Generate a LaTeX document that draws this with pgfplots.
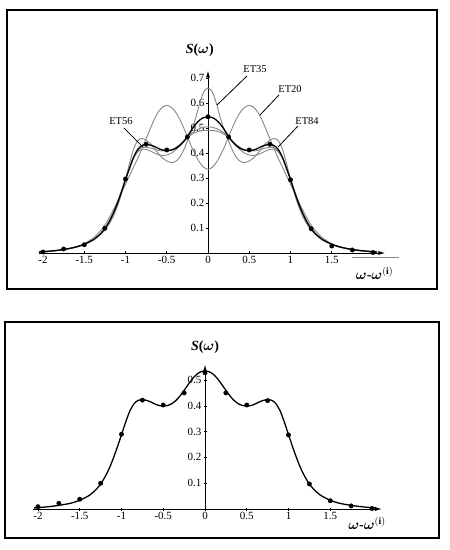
\documentclass[border=0pt]{standalone}
\usepackage{fontspec}
\setmainfont{Liberation Serif}
\usepackage{pgfplots}
\pgfplotsset{compat=1.18}
\usetikzlibrary{arrows.meta}
\usepackage{bm}
\definecolor{cgray}{RGB}{135,135,135}
\pgfplotsset{
  myaxis/.style={
    axis lines=middle,
    enlargelimits=false,
    clip=false,
    hide obscured x ticks=false,
    hide obscured y ticks=false,
    axis line style={line width=0.9pt,-{Latex[length=7pt,width=4pt]}},
    tick style={black,line width=0.6pt},
    major tick length=3pt,
    tick label style={font=\fontsize{11}{12}\selectfont},
    xtick={-2,-1.5,-1,-0.5,0,0.5,1,1.5},
    xticklabels={-2,-1.5,-1,-0.5,0,0.5,1,1.5},
    xticklabel style={yshift=1.5pt},
    yticklabel style={xshift=1.5pt},
  },
  gcurve/.style={cgray,line width=0.9pt,smooth,no marks},
  bcurve/.style={black,line width=1.3pt,smooth,no marks},
  bdots/.style={only marks,mark=*,mark size=2.2pt,black},
}
\begin{document}
\begin{tikzpicture}[x=1pt,y=1pt]
\path[use as bounding box] (0,0) rectangle (450,550);
\draw[line width=1.3pt] (7,261) rectangle (437,540);
\draw[line width=1.3pt] (5,12) rectangle (439,228);

% ---------------- top panel ----------------
\begin{axis}[myaxis,
  at={(38.875pt,297pt)}, anchor=south west,
  x=82.5pt, y=250pt,
  xmin=-2.05, xmax=2.15, ymin=0, ymax=0.73,
  ytick={0.1,0.2,0.3,0.4,0.5,0.6,0.7},
  yticklabels={0.1,0.2,0.3,0.4,0.5,0.6,0.7},
]
% ET20
\addplot[gcurve] coordinates {
(-2.05,0.003)(-1.9,0.007)(-1.75,0.013)(-1.6,0.024)(-1.5,0.037)(-1.4,0.058)(-1.35,0.072)(-1.3,0.09)(-1.25,0.112)(-1.2,0.14)(-1.15,0.17)(-1.1,0.205)(-1.05,0.24)(-1,0.275)(-0.95,0.31)(-0.9,0.345)(-0.85,0.38)(-0.8,0.418)(-0.75,0.457)(-0.7,0.497)(-0.65,0.535)(-0.6,0.565)(-0.55,0.584)(-0.5,0.59)(-0.45,0.584)(-0.4,0.567)(-0.35,0.54)(-0.3,0.505)(-0.25,0.465)(-0.2,0.425)(-0.15,0.39)(-0.1,0.362)(-0.05,0.342)
(0,0.335)(0.05,0.342)(0.1,0.362)(0.15,0.39)(0.2,0.425)(0.25,0.465)(0.3,0.505)(0.35,0.54)(0.4,0.567)(0.45,0.584)(0.5,0.59)(0.55,0.584)(0.6,0.565)(0.65,0.535)(0.7,0.497)(0.75,0.457)(0.8,0.418)(0.85,0.38)(0.9,0.345)(0.95,0.31)(1,0.275)(1.05,0.24)(1.1,0.205)(1.15,0.17)(1.2,0.14)(1.25,0.112)(1.3,0.09)(1.35,0.072)(1.4,0.058)(1.5,0.037)(1.6,0.024)(1.75,0.013)(1.9,0.007)(2.05,0.003)
};
% ET35
\addplot[gcurve] coordinates {
(-2.05,0.003)(-1.9,0.007)(-1.75,0.013)(-1.6,0.023)(-1.5,0.034)(-1.4,0.05)(-1.35,0.061)(-1.3,0.075)(-1.25,0.092)(-1.2,0.115)(-1.15,0.145)(-1.1,0.185)(-1.05,0.235)(-1,0.295)(-0.95,0.36)(-0.9,0.418)(-0.85,0.45)(-0.8,0.458)(-0.75,0.452)(-0.7,0.438)(-0.65,0.418)(-0.6,0.397)(-0.55,0.38)(-0.5,0.368)(-0.45,0.362)(-0.4,0.365)(-0.35,0.38)(-0.3,0.408)(-0.25,0.448)(-0.2,0.49)(-0.15,0.54)(-0.1,0.60)(-0.05,0.645)
(0,0.66)(0.05,0.645)(0.1,0.60)(0.15,0.54)(0.2,0.49)(0.25,0.448)(0.3,0.408)(0.35,0.38)(0.4,0.365)(0.45,0.362)(0.5,0.368)(0.55,0.38)(0.6,0.397)(0.65,0.418)(0.7,0.438)(0.75,0.452)(0.8,0.458)(0.85,0.45)(0.9,0.418)(0.95,0.36)(1,0.295)(1.05,0.235)(1.1,0.185)(1.15,0.145)(1.2,0.115)(1.25,0.092)(1.3,0.075)(1.35,0.061)(1.4,0.05)(1.5,0.034)(1.6,0.023)(1.75,0.013)(1.9,0.007)(2.05,0.003)
};
% ET56
\addplot[gcurve] coordinates {
(-2.05,0.004)(-1.9,0.008)(-1.75,0.014)(-1.6,0.024)(-1.5,0.035)(-1.4,0.051)(-1.35,0.063)(-1.3,0.078)(-1.25,0.098)(-1.2,0.124)(-1.15,0.158)(-1.1,0.2)(-1.05,0.248)(-1,0.295)(-0.95,0.34)(-0.9,0.38)(-0.85,0.405)(-0.8,0.415)(-0.75,0.414)(-0.7,0.408)(-0.65,0.40)(-0.6,0.393)(-0.55,0.39)(-0.5,0.392)(-0.45,0.398)(-0.4,0.41)(-0.35,0.425)(-0.3,0.443)(-0.25,0.46)(-0.2,0.474)(-0.15,0.483)(-0.1,0.488)(-0.05,0.49)
(0,0.49)(0.05,0.49)(0.1,0.488)(0.15,0.483)(0.2,0.474)(0.25,0.46)(0.3,0.443)(0.35,0.425)(0.4,0.41)(0.45,0.398)(0.5,0.392)(0.55,0.39)(0.6,0.393)(0.65,0.40)(0.7,0.408)(0.75,0.414)(0.8,0.415)(0.85,0.405)(0.9,0.38)(0.95,0.34)(1,0.295)(1.05,0.248)(1.1,0.2)(1.15,0.158)(1.2,0.124)(1.25,0.098)(1.3,0.078)(1.35,0.063)(1.4,0.051)(1.5,0.035)(1.6,0.024)(1.75,0.014)(1.9,0.008)(2.05,0.004)
};
% ET84
\addplot[gcurve] coordinates {
(-2.05,0.004)(-1.9,0.008)(-1.75,0.014)(-1.6,0.024)(-1.5,0.035)(-1.4,0.051)(-1.35,0.063)(-1.3,0.078)(-1.25,0.098)(-1.2,0.124)(-1.15,0.157)(-1.1,0.198)(-1.05,0.245)(-1,0.296)(-0.95,0.342)(-0.9,0.383)(-0.85,0.41)(-0.8,0.422)(-0.75,0.423)(-0.7,0.42)(-0.65,0.415)(-0.6,0.41)(-0.55,0.408)(-0.5,0.408)(-0.45,0.412)(-0.4,0.42)(-0.35,0.432)(-0.3,0.447)(-0.25,0.463)(-0.2,0.478)(-0.15,0.49)(-0.1,0.498)(-0.05,0.503)
(0,0.505)(0.05,0.503)(0.1,0.498)(0.15,0.49)(0.2,0.478)(0.25,0.463)(0.3,0.447)(0.35,0.432)(0.4,0.42)(0.45,0.412)(0.5,0.408)(0.55,0.408)(0.6,0.41)(0.65,0.415)(0.7,0.42)(0.75,0.423)(0.8,0.422)(0.85,0.41)(0.9,0.383)(0.95,0.342)(1,0.296)(1.05,0.245)(1.1,0.198)(1.15,0.157)(1.2,0.124)(1.25,0.098)(1.3,0.078)(1.35,0.063)(1.4,0.051)(1.5,0.035)(1.6,0.024)(1.75,0.014)(1.9,0.008)(2.05,0.004)
};
% exact (black)
\addplot[bcurve] coordinates {
(-2.05,0.004)(-1.9,0.008)(-1.75,0.014)(-1.6,0.024)(-1.5,0.035)(-1.4,0.051)(-1.35,0.063)(-1.3,0.078)(-1.25,0.098)(-1.2,0.124)(-1.15,0.157)(-1.1,0.197)(-1.05,0.243)(-1,0.293)(-0.95,0.34)(-0.9,0.385)(-0.85,0.415)(-0.8,0.43)(-0.75,0.434)(-0.7,0.432)(-0.65,0.426)(-0.6,0.418)(-0.55,0.412)(-0.5,0.41)(-0.45,0.411)(-0.4,0.417)(-0.35,0.428)(-0.3,0.444)(-0.25,0.466)(-0.2,0.492)(-0.15,0.515)(-0.1,0.532)(-0.05,0.542)
(0,0.545)(0.05,0.542)(0.1,0.532)(0.15,0.515)(0.2,0.492)(0.25,0.466)(0.3,0.444)(0.35,0.428)(0.4,0.417)(0.45,0.411)(0.5,0.41)(0.55,0.412)(0.6,0.418)(0.65,0.426)(0.7,0.432)(0.75,0.434)(0.8,0.43)(0.85,0.415)(0.9,0.385)(0.95,0.34)(1,0.293)(1.05,0.243)(1.1,0.197)(1.15,0.157)(1.2,0.124)(1.25,0.098)(1.3,0.078)(1.35,0.063)(1.4,0.051)(1.5,0.035)(1.6,0.024)(1.75,0.014)(1.9,0.008)(2.05,0.004)
};
\addplot[bdots] coordinates {
(-2,0.004)(-1.75,0.016)(-1.5,0.033)(-1.25,0.099)(-1,0.296)(-0.75,0.435)(-0.5,0.412)(-0.25,0.464)(0,0.545)(0.25,0.464)(0.5,0.412)(0.75,0.435)(1,0.293)(1.25,0.097)(1.5,0.028)(1.75,0.012)(2,0.002)
};
% labels
\node[font=\fontsize{14}{15}\selectfont] at (axis cs:-0.1,0.812) {\textbf{\textit{S}(}$\bm{\omega}$\textbf{)}};
\node[font=\fontsize{14}{15}\selectfont] at (axis cs:2.02,-0.08) {$\bm{\omega}$\textbf{-}$\bm{\omega}^{\mathbf{(i)}}$};
\draw[line width=0.5pt,cgray] (axis cs:1.75,-0.017) -- (axis cs:2.31,-0.017);
\node[font=\fontsize{10.5}{12}\selectfont] at (axis cs:0.57,0.736) {ET35};
\draw[line width=0.8pt] (axis cs:0.473,0.708) -- (axis cs:0.109,0.592);
\node[font=\fontsize{10.5}{12}\selectfont] at (axis cs:0.994,0.656) {ET20};
\draw[line width=0.8pt] (axis cs:0.86,0.632) -- (axis cs:0.63,0.552);
\node[font=\fontsize{10.5}{12}\selectfont] at (axis cs:1.2,0.528) {ET84};
\draw[line width=0.8pt] (axis cs:1.09,0.508) -- (axis cs:0.85,0.424);
\node[font=\fontsize{10.5}{12}\selectfont] at (axis cs:-1.055,0.528) {ET56};
\draw[line width=0.8pt] (axis cs:-1.02,0.5) -- (axis cs:-0.79,0.424);
\end{axis}

% ---------------- bottom panel ----------------
\begin{axis}[myaxis,
  at={(33.0pt,41pt)}, anchor=south west,
  x=83.5pt, y=258pt,
  xmin=-2.06, xmax=2.12, ymin=0, ymax=0.56,
  ytick={0.1,0.2,0.3,0.4,0.5},
  yticklabels={0.1,0.2,0.3,0.4,0.5},
]
\addplot[bcurve] coordinates {
(-2.05,0.004)(-1.9,0.008)(-1.75,0.014)(-1.6,0.023)(-1.5,0.034)(-1.4,0.05)(-1.35,0.062)(-1.3,0.077)(-1.25,0.097)(-1.2,0.123)(-1.15,0.155)(-1.1,0.195)(-1.05,0.24)(-1,0.288)(-0.95,0.337)(-0.9,0.38)(-0.85,0.408)(-0.8,0.421)(-0.75,0.424)(-0.7,0.421)(-0.65,0.415)(-0.6,0.407)(-0.55,0.401)(-0.5,0.399)(-0.45,0.401)(-0.4,0.408)(-0.35,0.42)(-0.3,0.438)(-0.25,0.46)(-0.2,0.483)(-0.15,0.505)(-0.1,0.522)(-0.05,0.532)
(0,0.535)(0.05,0.532)(0.1,0.522)(0.15,0.505)(0.2,0.483)(0.25,0.46)(0.3,0.438)(0.35,0.42)(0.4,0.408)(0.45,0.401)(0.5,0.399)(0.55,0.401)(0.6,0.407)(0.65,0.415)(0.7,0.421)(0.75,0.424)(0.8,0.421)(0.85,0.408)(0.9,0.38)(0.95,0.337)(1,0.288)(1.05,0.24)(1.1,0.195)(1.15,0.155)(1.2,0.123)(1.25,0.097)(1.3,0.077)(1.35,0.062)(1.4,0.05)(1.5,0.034)(1.6,0.023)(1.75,0.014)(1.9,0.008)(2.05,0.004)
};
\addplot[bdots] coordinates {
(-2,0.009)(-1.75,0.022)(-1.5,0.038)(-1.25,0.1)(-1,0.29)(-0.75,0.422)(-0.5,0.403)(-0.25,0.45)(0,0.528)(0.25,0.45)(0.5,0.403)(0.75,0.42)(1,0.287)(1.25,0.097)(1.5,0.032)(1.75,0.012)(2,0.002)
};
\node[font=\fontsize{14}{15}\selectfont] at (axis cs:0,0.628) {\textbf{\textit{S}(}$\bm{\omega}$\textbf{)}};
\node[font=\fontsize{14}{15}\selectfont] at (axis cs:1.94,-0.054) {$\bm{\omega}$\textbf{-}$\bm{\omega}^{\mathbf{(i)}}$};
\end{axis}
\end{tikzpicture}
\end{document}
